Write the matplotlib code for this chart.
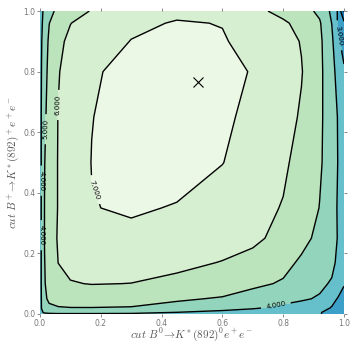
import matplotlib
matplotlib.use("Agg")
import matplotlib.pyplot as plt

plt.rcParams['mathtext.fontset'] = 'cm'

# cut values on each axis
cut_b0 = [0.0, 0.005, 0.015, 0.03, 0.06, 0.1, 0.17, 0.3, 0.45, 0.6, 0.7, 0.8, 0.86, 0.92, 0.96, 0.98, 1.0]
cut_bp = [0.0, 0.005, 0.02, 0.05, 0.1, 0.17, 0.25, 0.35, 0.5, 0.65, 0.8, 0.9, 0.96, 1.0]

# figure of merit, one row per cut_bp value
fom = [
    [3.5, 3.75, 3.85, 3.9, 3.93, 3.93, 3.93, 3.92, 3.85, 3.6, 3.45, 3.3, 3.2, 3.05, 2.7, 2.5, 2.3],
    [3.6, 3.9, 4.1, 4.15, 4.2, 4.2, 4.2, 4.15, 3.98, 3.75, 3.6, 3.4, 3.3, 3.05, 2.75, 2.55, 2.4],
    [3.6, 4.02, 4.6, 4.85, 4.95, 4.98, 4.98, 4.95, 4.75, 4.35, 4.1, 3.8, 3.6, 3.3, 2.95, 2.7, 2.55],
    [3.6, 4.05, 4.85, 5.15, 5.3, 5.4, 5.45, 5.35, 5.1, 4.93, 4.6, 4.3, 4.12, 3.9, 3.25, 2.95, 2.75],
    [3.6, 4.1, 4.95, 5.3, 5.75, 5.95, 6.03, 5.99, 5.8, 5.45, 5.2, 4.9, 4.55, 4.2, 3.9, 3.5, 3.05],
    [3.6, 4.1, 4.98, 5.4, 6.01, 6.25, 6.35, 6.35, 6.2, 5.97, 5.7, 5.3, 4.85, 4.55, 4.25, 3.8, 3.35],
    [3.6, 4.1, 5.03, 5.45, 6.1, 6.4, 6.7, 6.8, 6.65, 6.35, 6.2, 5.7, 5.3, 4.75, 4.4, 3.95, 3.45],
    [3.6, 4.1, 5.02, 5.4, 6.05, 6.4, 6.97, 7.1, 6.95, 6.6, 6.3, 5.95, 5.5, 4.98, 4.5, 3.9, 3.45],
    [3.6, 4.1, 4.98, 5.4, 6.05, 6.45, 7.02, 7.3, 7.35, 7.02, 6.6, 6.15, 5.7, 5.1, 4.6, 3.98, 3.5],
    [3.6, 4.1, 4.85, 5.35, 6.03, 6.4, 6.98, 7.35, 7.4, 7.15, 6.8, 6.35, 5.9, 5.15, 4.55, 3.95, 3.45],
    [3.55, 4.02, 4.7, 5.25, 5.95, 6.35, 6.9, 7.25, 7.35, 7.25, 6.95, 6.45, 6.05, 5.2, 4.4, 3.6, 3.1],
    [3.5, 3.95, 4.55, 5.15, 5.8, 6.2, 6.6, 7.02, 7.15, 7.05, 6.8, 6.35, 5.95, 5.2, 4.2, 3.15, 2.7],
    [3.45, 3.85, 4.4, 4.98, 5.55, 5.98, 6.4, 6.85, 7.05, 6.98, 6.6, 6.15, 5.7, 5.1, 3.98, 2.9, 2.2],
    [3.4, 3.75, 4.3, 4.75, 5.2, 5.6, 6.05, 6.6, 6.85, 6.7, 6.3, 5.7, 5.4, 4.8, 3.8, 2.9, 0.9],
]

levels = [0, 1, 2, 3, 4, 5, 6, 7, 8]
best_cut = (0.52, 0.765)

fig = plt.figure(figsize=(3.51, 3.45), dpi=100)
ax = fig.add_axes([0.114, 0.09, 0.866, 0.878])

ax.contourf(cut_b0, cut_bp, fom, levels=levels, cmap='GnBu_r')
cs = ax.contour(cut_b0, cut_bp, fom, levels=levels, colors='k', linewidths=1)
ax.clabel(cs, fmt='%.3f', fontsize=5,
          manual=[(0.06, 0.69), (0.017, 0.61), (0.18, 0.41), (0.004, 0.44),
                  (0.004, 0.26), (0.78, 0.006), (0.985, 0.92)])
ax.plot(best_cut[0], best_cut[1], 'kx', markersize=7, markeredgewidth=0.8)

ax.set_xlim(0, 1)
ax.set_ylim(0, 1)
ax.set_xticks([0.0, 0.2, 0.4, 0.6, 0.8, 1.0])
ax.set_yticks([0.0, 0.2, 0.4, 0.6, 0.8, 1.0])
ax.tick_params(direction='out', length=2, width=0.6, colors='#777777', labelsize=5.5,
               top=True, right=True, pad=1.5)
for s in ax.spines.values():
    s.set_visible(False)

ax.set_xlabel(r'$cut\ B^0\!\rightarrow\! K^*(892)^0e^+e^-$', fontsize=8, color='#555555', labelpad=-1)
ax.set_ylabel(r'$cut\ B^+\!\rightarrow\! K^*(892)^+e^+e^-$', fontsize=8, color='#555555', labelpad=1)

fig.savefig('out.png', dpi=100)
